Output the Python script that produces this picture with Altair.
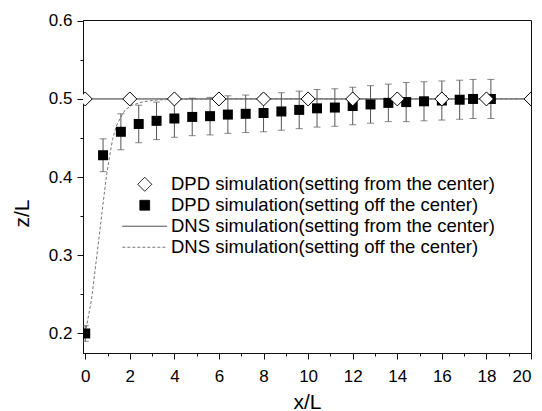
import altair as alt
import pandas as pd

FONT = "Liberation Sans"

# DPD simulation (setting off the center) - filled squares with error bars
off_x = [0, 0.8, 1.6, 2.4, 3.2, 4.0, 4.8, 5.6, 6.4, 7.2, 8.0, 8.8, 9.6, 10.4,
         11.2, 12.0, 12.8, 13.6, 14.4, 15.2, 16.0, 16.8, 17.4, 18.2]
off_y = [0.200, 0.428, 0.458, 0.468, 0.472, 0.475, 0.477, 0.478, 0.480, 0.481,
         0.482, 0.484, 0.486, 0.488, 0.489, 0.491, 0.493, 0.495, 0.496, 0.497,
         0.498, 0.499, 0.500, 0.500]
off_err = [0.010, 0.021, 0.023, 0.024, 0.024, 0.024, 0.024, 0.024, 0.024, 0.024,
           0.024, 0.024, 0.024, 0.024, 0.024, 0.024, 0.024, 0.024, 0.025, 0.025,
           0.025, 0.025, 0.025, 0.025]

# DPD simulation (setting from the center) - open diamonds
ctr_x = [0, 2, 4, 6, 8, 10, 12, 14, 16, 18, 20]
ctr_y = [0.5, 0.5, 0.5, 0.5, 0.5, 0.5, 0.5, 0.5, 0.5, 0.5, 0.5]

# DNS simulation (setting from the center) - solid line
dns_ctr_x = [0, 20]
dns_ctr_y = [0.5, 0.5]

# DNS simulation (setting off the center) - dashed line
dns_off_x = [0, 0.28, 0.6, 0.85, 0.97, 1.09, 1.225, 1.39, 1.6, 1.79, 2.1, 2.62,
             3.22, 4.0, 5.0, 6.0, 20]
dns_off_y = [0.200, 0.243, 0.318, 0.378, 0.405, 0.426, 0.448, 0.465, 0.477,
             0.486, 0.492, 0.4965, 0.4987, 0.4995, 0.4998, 0.5, 0.5]

series_names = [
    "DPD simulation(setting from the center)",
    "DPD simulation(setting off the center)",
    "DNS simulation(setting from the center)",
    "DNS simulation(setting off the center)",
]

x_major = [0, 2, 4, 6, 8, 10, 12, 14, 16, 18, 20]
x_minor = [1, 3, 5, 7, 9, 11, 13, 15, 17, 19]
y_major = [0.2, 0.3, 0.4, 0.5, 0.6]
y_minor = [0.25, 0.35, 0.45, 0.55]

XDOM = [-0.1, 20]
YDOM = [0.175, 0.601]
xs = alt.Scale(domain=XDOM, nice=False, zero=False)
ys = alt.Scale(domain=YDOM, nice=False, zero=False)

off_df = pd.DataFrame({"x": off_x, "y": off_y, "err": off_err})
off_df["lo"] = off_df["y"] - off_df["err"]
off_df["hi"] = off_df["y"] + off_df["err"]
ctr_df = pd.DataFrame({"x": ctr_x, "y": ctr_y})
dns_ctr_df = pd.DataFrame({"x": dns_ctr_x, "y": dns_ctr_y})
dns_off_df = pd.DataFrame({"x": dns_off_x, "y": dns_off_y})
leg_df = pd.DataFrame({"series": series_names, "x": [-50] * 4, "y": [0.5] * 4})

x_main_axis = alt.Axis(orient="bottom", values=x_major, tickSize=6, labelFontSize=17,
                       labelPadding=17, labelBaseline="middle", title="x/L",
                       titleFontSize=21, titleFontWeight="normal", titleY=49,
                       titleBaseline="middle", grid=False)
x_minor_axis = alt.Axis(orient="bottom", values=x_minor, tickSize=3, labels=False,
                        domain=False, title=None, grid=False)
y_main_axis = alt.Axis(orient="left", values=y_major, format=".1f", tickSize=6,
                       labelFontSize=17, labelPadding=5, title="z/L",
                       titleFontSize=21, titleFontWeight="normal", titleX=-61,
                       titleY=193, titleAngle=270, titleBaseline="middle",
                       titleAlign="center", grid=False)
y_minor_axis = alt.Axis(orient="left", values=y_minor, tickSize=3, labels=False,
                        domain=False, title=None, grid=False)

dns_ctr = alt.Chart(dns_ctr_df).mark_line(color="#333", strokeWidth=1, clip=True).encode(
    x=alt.X("x:Q", scale=xs, axis=x_main_axis),
    y=alt.Y("y:Q", scale=ys, axis=y_main_axis),
)

dns_off = alt.Chart(dns_off_df).mark_line(color="#777", strokeWidth=1,
                                           strokeDash=[3, 2], clip=True).encode(
    x=alt.X("x:Q", scale=xs, axis=x_minor_axis),
    y=alt.Y("y:Q", scale=ys, axis=y_minor_axis),
)

bars = alt.Chart(off_df).mark_rule(color="#555", strokeWidth=1, clip=True).encode(
    x=alt.X("x:Q", scale=xs, axis=None),
    y=alt.Y("lo:Q", scale=ys, axis=None),
    y2="hi:Q",
)
cap_lo = alt.Chart(off_df).mark_tick(color="#555", orient="horizontal", size=7,
                                      thickness=1, clip=True).encode(
    x=alt.X("x:Q", scale=xs, axis=None),
    y=alt.Y("lo:Q", scale=ys, axis=None),
)
cap_hi = alt.Chart(off_df).mark_tick(color="#555", orient="horizontal", size=7,
                                      thickness=1, clip=True).encode(
    x=alt.X("x:Q", scale=xs, axis=None),
    y=alt.Y("hi:Q", scale=ys, axis=None),
)

squares = alt.Chart(off_df).mark_point(shape="square", size=100, filled=True,
                                        fill="black", stroke="black", strokeWidth=0,
                                        opacity=1, clip=True).encode(
    x=alt.X("x:Q", scale=xs, axis=None),
    y=alt.Y("y:Q", scale=ys, axis=None),
)

diamonds = alt.Chart(ctr_df).mark_point(shape="diamond", size=196, fill="white",
                                         stroke="black", strokeWidth=1, opacity=1,
                                         filled=False, fillOpacity=1, clip=True).encode(
    x=alt.X("x:Q", scale=xs, axis=None),
    y=alt.Y("y:Q", scale=ys, axis=None),
)

leg = alt.Legend(title=None, orient="none", legendX=52.5, legendY=155, padding=0,
                 symbolSize=196, symbolStrokeWidth=1, labelFontSize=18.5,
                 labelFont=FONT, labelColor="black", labelOffset=17, rowPadding=2,
                 labelLimit=500)
legend_layer = alt.Chart(leg_df).mark_point(clip=True, opacity=1, filled=False).encode(
    x=alt.X("x:Q", scale=xs, axis=None),
    y=alt.Y("y:Q", scale=ys, axis=None),
    shape=alt.Shape("series:N", sort=series_names, legend=leg, scale=alt.Scale(
        domain=series_names,
        range=["M0,-1L1,0L0,1L-1,0Z",
               "M-0.7,-0.7L0.7,-0.7L0.7,0.7L-0.7,0.7Z",
               "M-3.2,0L3.2,0",
               "M-3.2,0L3.2,0"])),
    fill=alt.Fill("series:N", sort=series_names, legend=leg, scale=alt.Scale(
        domain=series_names, range=["white", "black", "transparent", "transparent"])),
    stroke=alt.Stroke("series:N", sort=series_names, legend=leg, scale=alt.Scale(
        domain=series_names, range=["black", "black", "#333", "#777"])),
    strokeDash=alt.StrokeDash("series:N", sort=series_names, legend=leg, scale=alt.Scale(
        domain=series_names, range=[[1, 0], [1, 0], [1, 0], [3, 2]])),
)

chart = alt.layer(
    dns_ctr, dns_off, bars, cap_lo, cap_hi, squares, diamonds, legend_layer
).resolve_axis(
    x="independent", y="independent"
).properties(
    width=448, height=333,
    autosize=alt.AutoSizeParams(type="none"),
    padding={"left": 83, "top": 20, "right": 11, "bottom": 58},
).configure(
    font=FONT,
).configure_view(
    stroke="#111", strokeWidth=1,
).configure_axis(
    domainColor="#111", tickColor="#111", labelColor="black", titleColor="black",
    labelFont=FONT, titleFont=FONT,
)

chart.save("out.html", embed_options={"renderer": "svg", "actions": False})
